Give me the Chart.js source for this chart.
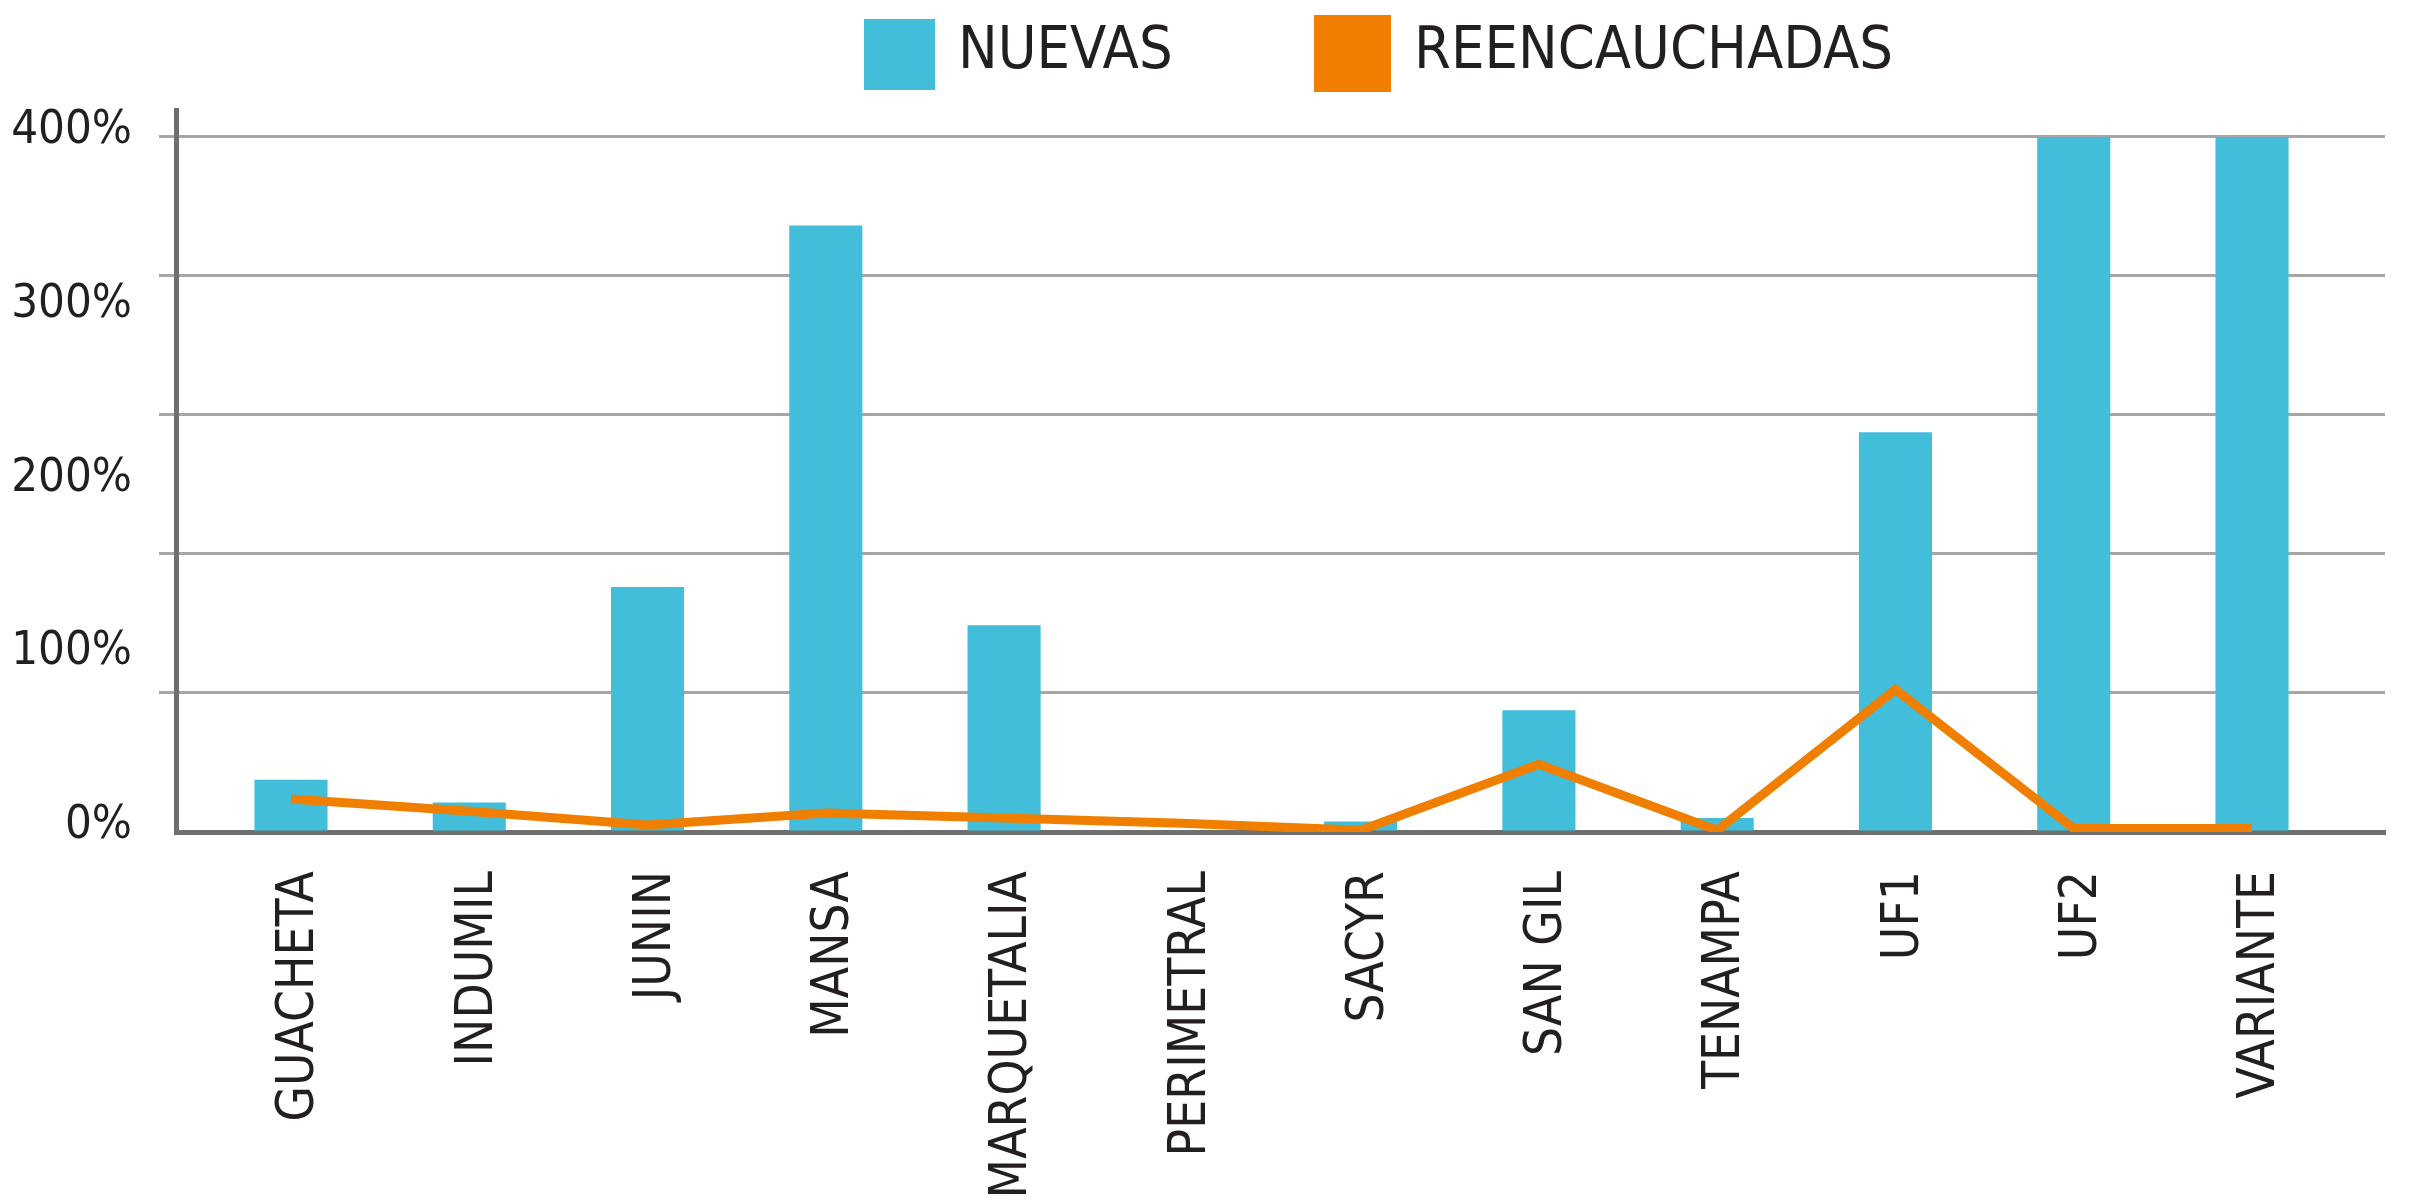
<!DOCTYPE html>
<html>
<head>
<meta charset="utf-8">
<script src="https://cdn.jsdelivr.net/npm/chart.js@4.4.0/dist/chart.umd.min.js"></script>
<style>
  body { margin: 0; background: #fff; }
  #wrap { position: relative; width: 2417px; height: 1202px; }
</style>
</head>
<body>
<div id="wrap"><canvas id="myChart"></canvas></div>
<script>
let categories = ['GUACHETA', 'INDUMIL', 'JUNIN', 'MANSA', 'MARQUETALIA', 'PERIMETRAL', 'SACYR', 'SAN GIL', 'TENAMPA', 'UF1', 'UF2', 'VARIANTE']
let nuevas = [30, 17, 141, 349, 119, 0, 6, 70, 8, 230, 400, 400]
let reencauchadas = [19, 12, 4, 11, 8, 5, 1, 39, 1, 82, 2, 2]
// the picture labels every 100% but draws a grid line every 80%
let yLabelTicks = [0, 100, 200, 300, 400]
let yGridTicks = [0, 80, 160, 240, 320, 400]

let fontName = "'DejaVu Sans Condensed', 'Liberation Sans Narrow', sans-serif"
let textColor = '#231f20'
let axisColor = '#6f6f6f'

// legend drawn by hand so the two items sit where they are in the picture
const topLegend = {
  id: 'topLegend',
  afterDraw(chart, args, opts) {
    const ctx = chart.ctx
    ctx.save()
    ctx.font = opts.fontSize + 'px ' + fontName
    ctx.textBaseline = 'middle'
    opts.items.forEach(it => {
      const ds = chart.data.datasets[it.dataset]
      ctx.fillStyle = ds.backgroundColor
      ctx.fillRect(it.x, it.y, it.size, it.size)
      ctx.fillStyle = textColor
      ctx.fillText(ds.label, it.textX, opts.textY)
    })
    ctx.restore()
  }
}

var ctx = document.getElementById('myChart').getContext('2d');
var chart = new Chart(ctx, {
  type: 'bar',
  data: {
    datasets: [{
      type: 'bar',
      label: 'NUEVAS',
      backgroundColor: '#42bdda',
      data: nuevas.map((v, i) => ({ x: i, y: v })),
      barPercentage: 0.41,
      categoryPercentage: 1,
      order: 2
    }, {
      type: 'line',
      label: 'REENCAUCHADAS',
      borderColor: '#f07f00',
      backgroundColor: '#f07f00',
      borderWidth: 9,
      pointRadius: 0,
      tension: 0,
      data: reencauchadas.map((v, i) => ({ x: i, y: v })),
      order: 1
    }]
  },
  options: {
    responsive: true,
    maintainAspectRatio: false,
    devicePixelRatio: 1,
    animation: false,
    layout: { padding: { top: 110, right: 32, left: 0, bottom: 0 } },
    plugins: {
      legend: { display: false },
      tooltip: { enabled: false },
      topLegend: {
        fontSize: 59,
        textY: 53,
        items: [
          { dataset: 0, x: 864, y: 19, size: 71, textX: 958 },
          { dataset: 1, x: 1314, y: 15, size: 77, textX: 1414 }
        ]
      }
    },
    scales: {
      x: {
        type: 'linear',
        min: -0.645,
        max: 11.746,
        offset: false,
        grid: { display: false, drawTicks: false, offset: false },
        border: { display: true, color: axisColor, width: 5 },
        afterBuildTicks: s => { s.ticks = categories.map((c, i) => ({ value: i })) },
        afterFit: s => { s.height = 370 },
        ticks: {
          autoSkip: false,
          minRotation: 90,
          maxRotation: 90,
          padding: 39,
          labelOffset: 9,
          color: textColor,
          font: { family: fontName, size: 51 },
          callback: v => categories[v]
        }
      },
      y: {
        min: 0,
        max: 415.5,
        weight: 0,
        afterBuildTicks: s => { s.ticks = yGridTicks.map(v => ({ value: v })) },
        afterFit: s => { s.width = 17 },
        grid: {
          color: c => c.tick && c.tick.value === 0 ? 'rgba(0,0,0,0)' : '#a6a6a6',
          lineWidth: 3,
          tickLength: 17
        },
        border: { display: true, color: axisColor, width: 5 },
        ticks: { display: false }
      },
      yl: {
        position: 'left',
        min: 0,
        max: 415.5,
        weight: 1,
        afterBuildTicks: s => { s.ticks = yLabelTicks.map(v => ({ value: v })) },
        afterFit: s => { s.width = 159 },
        grid: { display: false, drawTicks: false },
        border: { display: false },
        ticks: {
          padding: 27,
          labelOffset: -6,
          color: textColor,
          font: { family: fontName, size: 47 },
          callback: v => v + '%'
        }
      }
    }
  },
  plugins: [topLegend]
});
</script>
</body>
</html>
